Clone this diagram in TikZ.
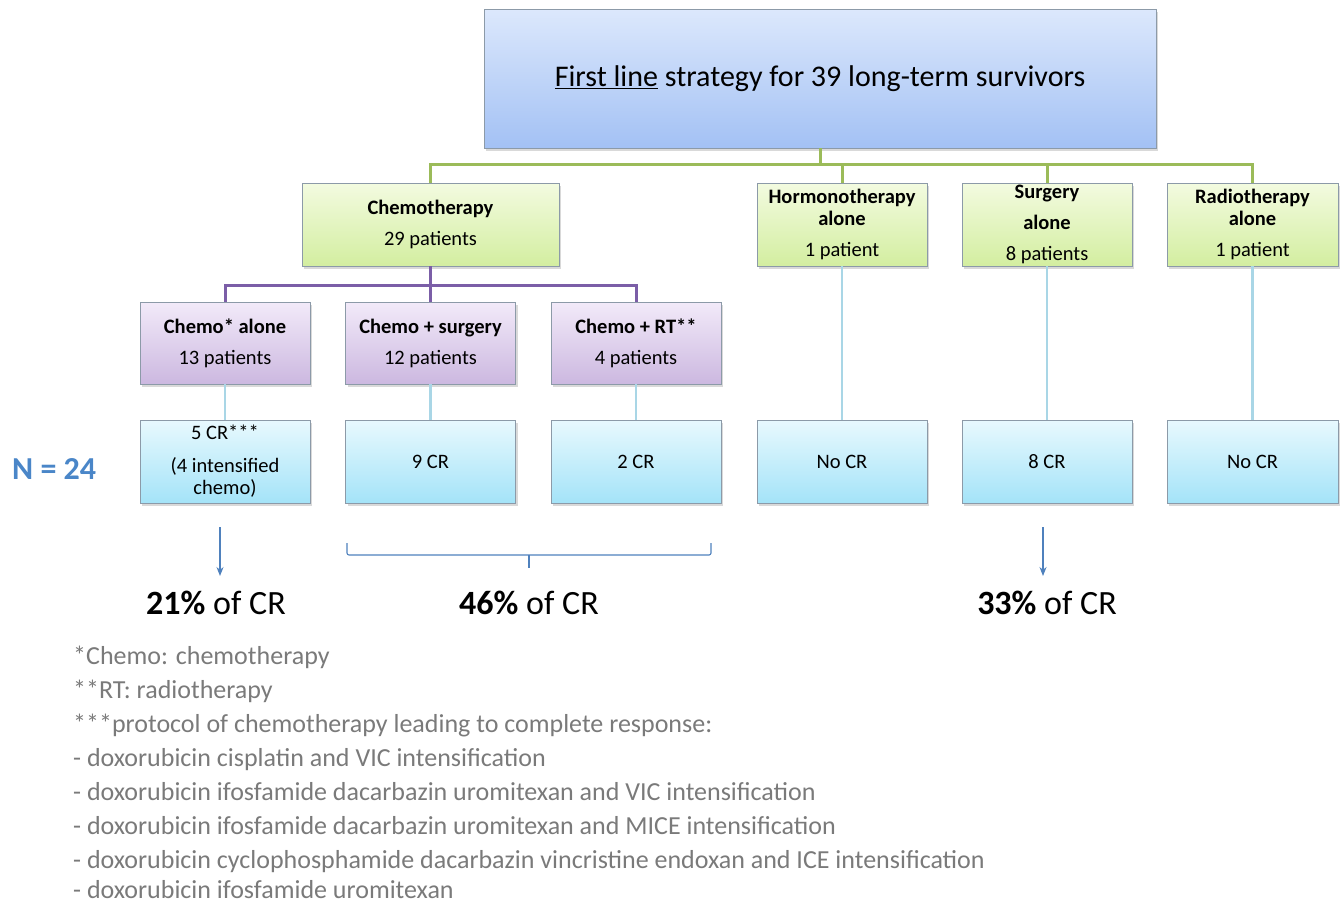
\documentclass[tikz,border=0pt]{standalone}
\usepackage{fontspec}
\setmainfont{Carlito}
\usetikzlibrary{shadows,arrows.meta}
\definecolor{topT}{HTML}{DCE8FC}
\definecolor{topB}{HTML}{A3C1F4}
\definecolor{grnT}{HTML}{F3FBE0}
\definecolor{grnB}{HTML}{D3EEA0}
\definecolor{purT}{HTML}{F2EAF9}
\definecolor{purB}{HTML}{CCB8E0}
\definecolor{cyaT}{HTML}{E8F9FE}
\definecolor{cyaB}{HTML}{A4E3F8}
\definecolor{bord}{HTML}{8C9AA8}
\definecolor{gline}{HTML}{9BBB59}
\definecolor{pline}{HTML}{7B5EA7}
\definecolor{cline}{HTML}{A9D6E6}
\definecolor{ablue}{HTML}{4F81BD}
\definecolor{nblue}{HTML}{4A86C8}
\definecolor{fgray}{HTML}{7A7A7A}
\begin{document}
\begin{tikzpicture}[x=1pt,y=-1pt,
  box/.style={draw=bord, line width=0.9pt, inner sep=0pt, align=center,
    minimum width=170, minimum height=83,
    font=\fontsize{20.5}{31}\selectfont,
    drop shadow={shadow xshift=2pt, shadow yshift=-2.5pt, opacity=0.3}},
  topbox/.style={box, top color=topT, bottom color=topB, minimum width=672, minimum height=139,
    font=\fontsize{30}{36}\selectfont},
  gbox/.style={box, top color=grnT, bottom color=grnB},
  pbox/.style={box, top color=purT, bottom color=purB, minimum height=82},
  cbox/.style={box, top color=cyaT, bottom color=cyaB},
  gconn/.style={draw=gline, line width=3pt},
  pconn/.style={draw=pline, line width=3pt},
  cconn/.style={draw=cline, line width=2.5pt},
  barrow/.style={draw=ablue, line width=1.3pt, -{Stealth[length=9pt,width=7pt]}},
  pct/.style={anchor=base, font=\fontsize{34}{40}\selectfont},
  foot/.style={anchor=base west, text=fgray, font=\fontsize{26}{30}\selectfont, inner sep=0pt}
]
\useasboundingbox (0,0) rectangle (1341,905);

\coordinate (gbus) at (0,164);
\coordinate (pbus) at (0,285);

\node[topbox] (top) at (820,78.5) {\underline{First line} strategy for 39 long-term survivors};

\node[gbox, minimum width=257] (chemo) at (430.5,224.5) {\textbf{Chemotherapy}\\29 patients};
\node[gbox] (hormo) at (842,224.5) {\textbf{Hormonotherapy}\\[-9pt]\textbf{alone}\\1 patient};
\node[gbox] (surg) at (1047,224.5) {\textbf{Surgery}\\\textbf{alone}\\8 patients};
\node[gbox, minimum width=171] (radio) at (1252.5,224.5) {\textbf{Radiotherapy}\\[-9pt]\textbf{alone}\\1 patient};

\node[pbox] (calone) at (225,343) {\textbf{Chemo* alone}\\13 patients};
\node[pbox] (csurg) at (430.5,343) {\textbf{Chemo + surgery}\\12 patients};
\node[pbox] (crt) at (636,343) {\textbf{Chemo + RT**}\\4 patients};

\node[cbox] (r1) at (225,461.5) {5 CR***\\[2pt](4 intensified\\[-9pt]chemo)};
\node[cbox] (r2) at (430.5,461.5) {9 CR};
\node[cbox] (r3) at (636,461.5) {2 CR};
\node[cbox] (r4) at (842,461.5) {No CR};
\node[cbox] (r5) at (1047,461.5) {8 CR};
\node[cbox, minimum width=171] (r6) at (1252.5,461.5) {No CR};

% green tree
\draw[gconn] (top.south) -- (top.south |- gbus);
\draw[gconn] (chemo.north) -- (chemo.north |- gbus) -- (radio.north |- gbus) -- (radio.north);
\draw[gconn] (hormo.north) -- (hormo.north |- gbus);
\draw[gconn] (surg.north) -- (surg.north |- gbus);

% purple tree
\draw[pconn] (chemo.south) -- (chemo.south |- pbus);
\draw[pconn] (calone.north) -- (calone.north |- pbus) -- (crt.north |- pbus) -- (crt.north);
\draw[pconn] (csurg.north) -- (csurg.north |- pbus);

% light blue links
\draw[cconn] (calone.south) -- (r1.north);
\draw[cconn] (csurg.south) -- (r2.north);
\draw[cconn] (crt.south) -- (r3.north);
\draw[cconn] (hormo.south) -- (r4.north);
\draw[cconn] (surg.south) -- (r5.north);
\draw[cconn] (radio.south) -- (r6.north);

% N = 24
\node[anchor=base west, inner sep=0pt, text=nblue, font=\fontsize{32}{38}\selectfont\bfseries] (n24) at (12,479) {N = 24};

% arrows and bracket
\coordinate (a1s) at (220,527);
\coordinate (a1e) at (220,576);
\coordinate (a2s) at (1043,527);
\coordinate (a2e) at (1043,576);
\draw[barrow] (a1s) -- (a1e);
\draw[barrow] (a2s) -- (a2e);
\coordinate (bl) at (347,543);
\coordinate (br) at (711,543);
\coordinate (bm) at (529,555);
\coordinate (bt) at (529,568);
\draw[ablue, line width=1.1pt, rounded corners=2pt] (bl) -- (bl |- bm) -- (br |- bm) -- (br);
\draw[ablue, line width=1.1pt] (bm) -- (bt);

\node[pct] (p21) at (216,614) {\textbf{21\%} of CR};
\node[pct] (p46) at (529,614) {\textbf{46\%} of CR};
\node[pct] (p33) at (1047,614) {\textbf{33\%} of CR};

% footnotes
\node[foot] (f1) at (73,664) {*Chemo: chemotherapy};
\node[foot] (f2) at (73,698) {**RT: radiotherapy};
\node[foot] (f3) at (73,732) {***protocol of chemotherapy leading to complete response:};
\node[foot] (f4) at (73,766) {- doxorubicin cisplatin and VIC intensification};
\node[foot] (f5) at (73,800) {- doxorubicin ifosfamide dacarbazin uromitexan and VIC intensification};
\node[foot] (f6) at (73,834) {- doxorubicin ifosfamide dacarbazin uromitexan and MICE intensification};
\node[foot] (f7) at (73,868) {- doxorubicin cyclophosphamide dacarbazin vincristine endoxan and ICE intensification};
\node[foot] (f8) at (73,898) {- doxorubicin ifosfamide uromitexan};
\end{tikzpicture}
\end{document}
